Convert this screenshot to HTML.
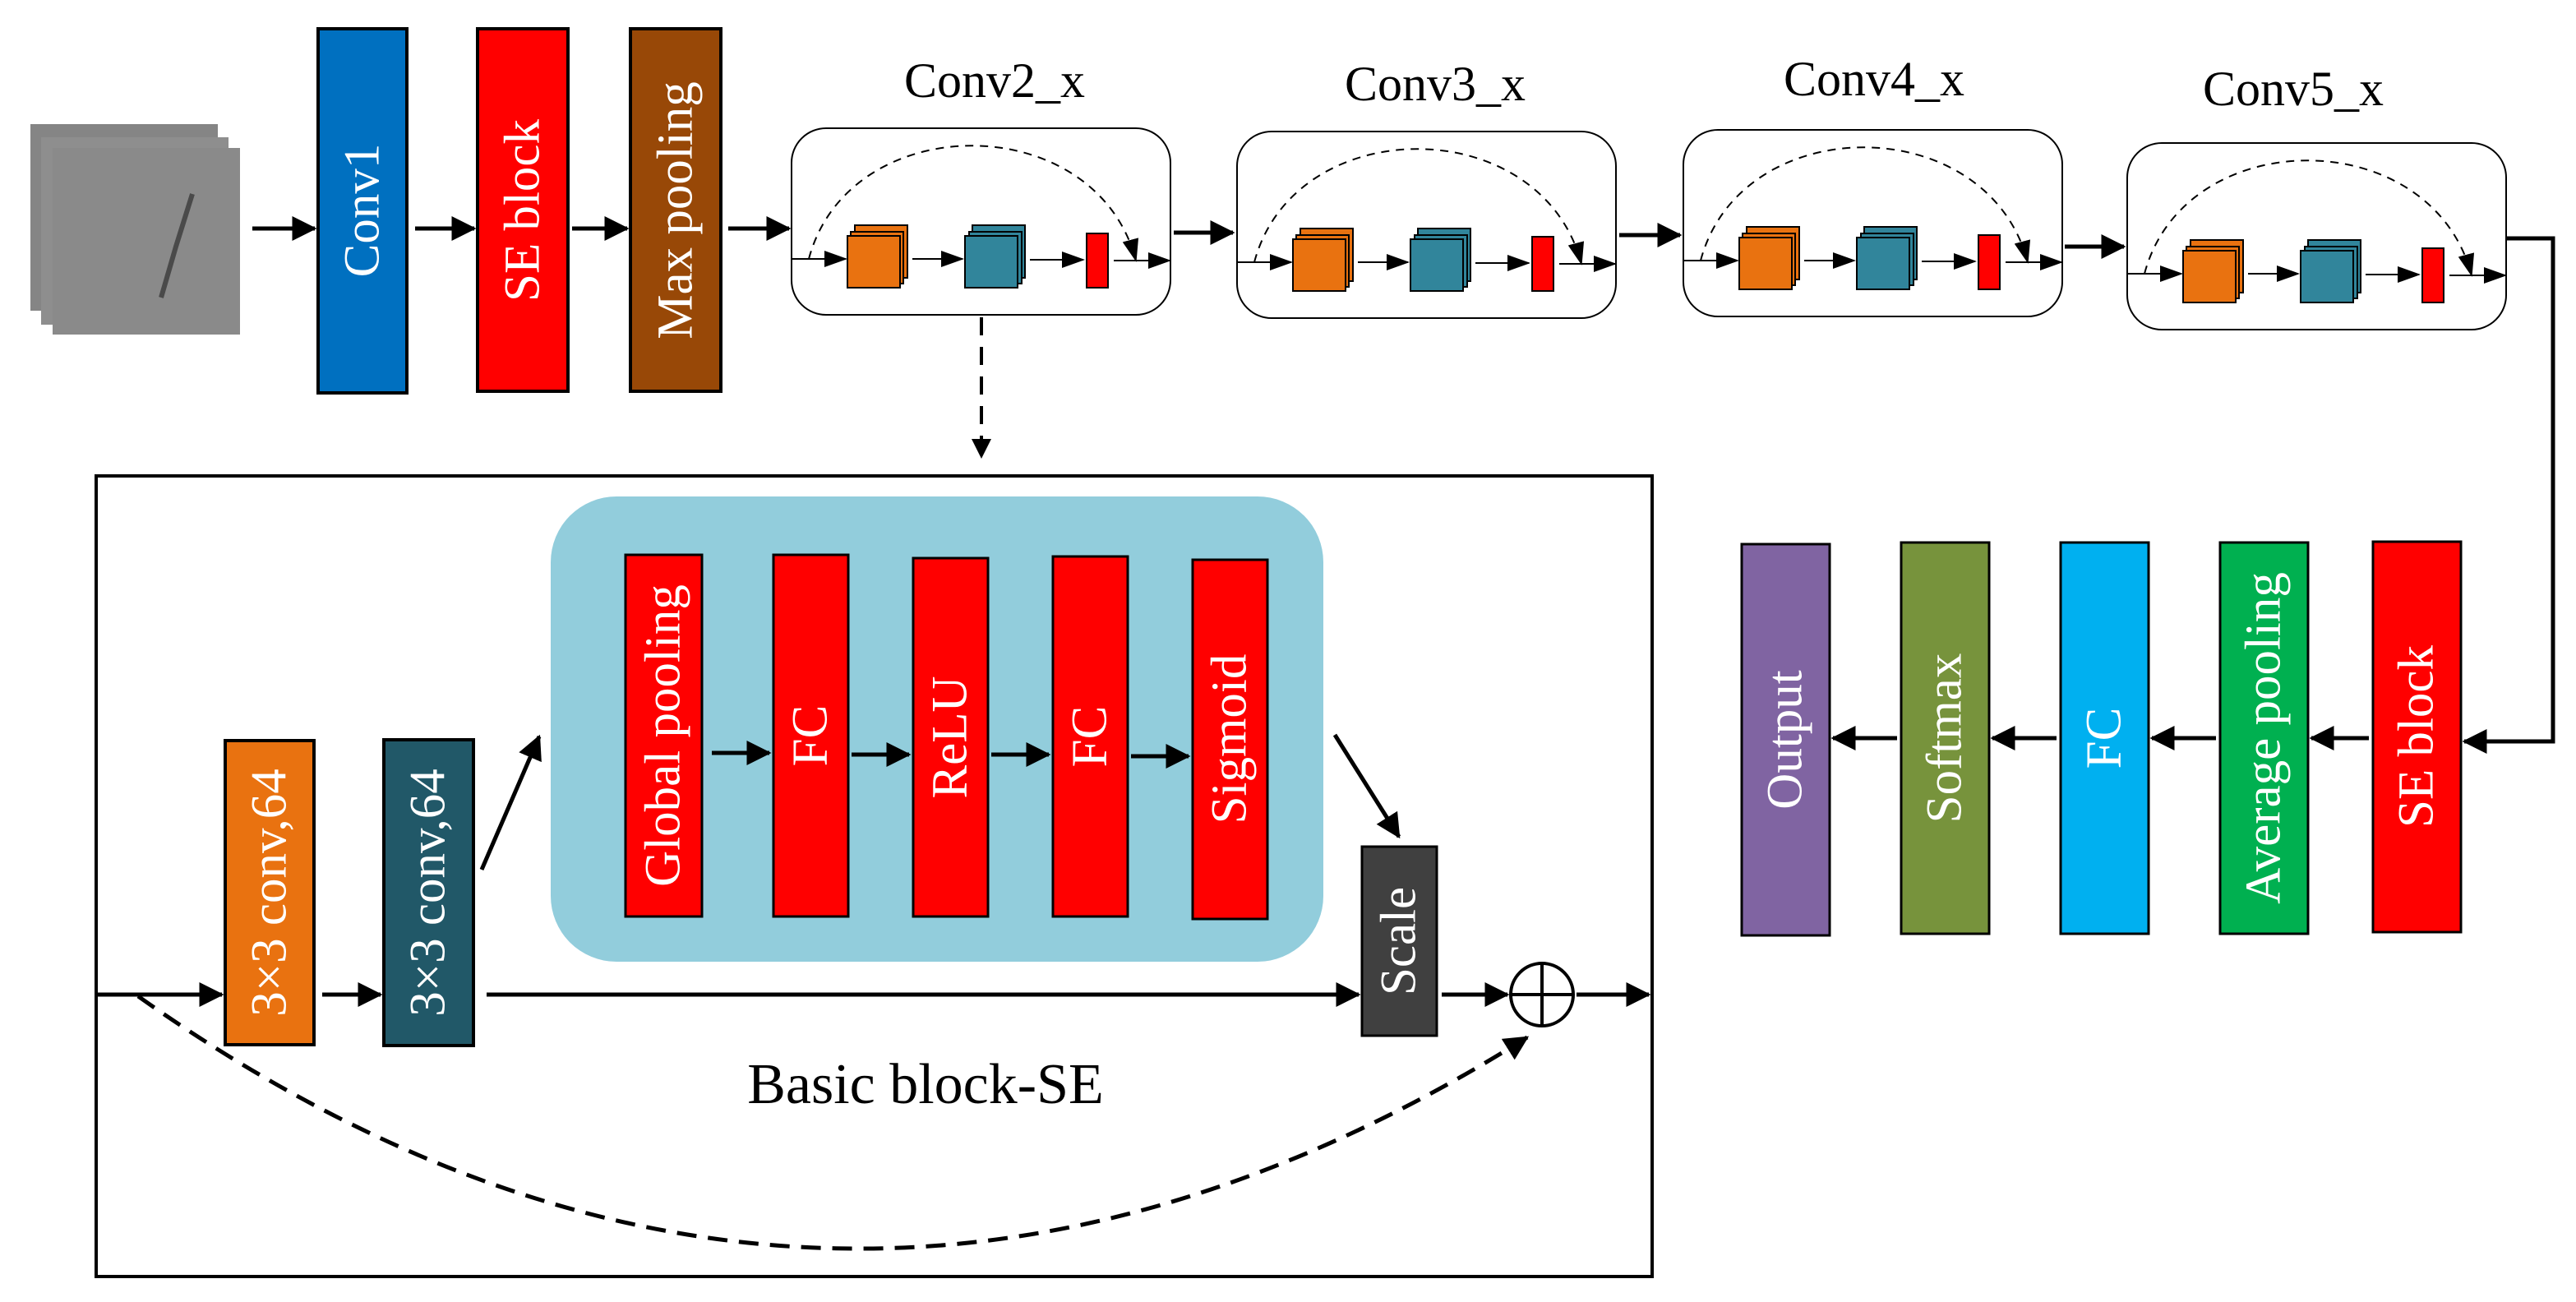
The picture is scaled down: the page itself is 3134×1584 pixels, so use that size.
<!DOCTYPE html>
<html><head><meta charset="utf-8"><style>
html,body{margin:0;padding:0;background:#fff;}
svg{display:block;}
text{font-family:"Liberation Serif",serif;}
.v{fill:#fff;font-size:61px;text-anchor:middle;dominant-baseline:central;}
</style></head><body>
<svg width="3134" height="1584" viewBox="0 0 3134 1584" xmlns="http://www.w3.org/2000/svg">
<defs>
<marker id="a" markerWidth="6" markerHeight="6" refX="5.5" refY="3" orient="auto" markerUnits="strokeWidth"><path d="M0,0 L6,3 L0,6 z" fill="#000"/></marker>
<marker id="s" markerWidth="14" markerHeight="10" refX="13" refY="5" orient="auto" markerUnits="strokeWidth"><path d="M0,0 L14,5 L0,10 z" fill="#000"/></marker>
<g id="mini">
  <rect x="0" y="0" width="461" height="227" rx="42" fill="#fff" stroke="#000" stroke-width="2"/>
  <line x1="0" y1="159" x2="66" y2="159" stroke="#000" stroke-width="2" marker-end="url(#s)"/>
  <rect x="77" y="118" width="64" height="64" fill="#e97210" stroke="#000" stroke-width="2"/>
  <rect x="72" y="126" width="64" height="63" fill="#e97210" stroke="#000" stroke-width="2"/>
  <rect x="68" y="131" width="64" height="63" fill="#e97210" stroke="#000" stroke-width="2"/>
  <line x1="147" y1="159" x2="208" y2="159" stroke="#000" stroke-width="2" marker-end="url(#s)"/>
  <rect x="220" y="118" width="64" height="64" fill="#31859b" stroke="#000" stroke-width="2"/>
  <rect x="216" y="126" width="64" height="63" fill="#31859b" stroke="#000" stroke-width="2"/>
  <rect x="211" y="131" width="64" height="63" fill="#31859b" stroke="#000" stroke-width="2"/>
  <line x1="290" y1="160" x2="355" y2="160" stroke="#000" stroke-width="2" marker-end="url(#s)"/>
  <rect x="359" y="128" width="26" height="66" fill="#ff0000" stroke="#000" stroke-width="2"/>
  <line x1="392" y1="161" x2="460" y2="161" stroke="#000" stroke-width="2" marker-end="url(#s)"/>
  <path d="M21 159 C 70 -25 370 -25 419 161" fill="none" stroke="#000" stroke-width="2" stroke-dasharray="10,8" marker-end="url(#s)"/>
</g>
</defs>

<!-- input images -->
<rect x="37" y="151" width="228" height="227" fill="#858585"/>
<rect x="50" y="167" width="228" height="228" fill="#8e8e8e"/>
<rect x="64" y="180" width="228" height="227" fill="#8a8a8a"/>
<path d="M234 236 L214 300 L196 362" stroke="#4a4a4a" stroke-width="6" fill="none"/>

<!-- top blocks -->
<rect x="387" y="35" width="108" height="443" fill="#0070c0" stroke="#000" stroke-width="4"/>
<text class="v" transform="translate(441,256) rotate(-90)">Conv1</text>
<rect x="581" y="35" width="110" height="441" fill="#ff0000" stroke="#000" stroke-width="4"/>
<text class="v" transform="translate(636,256) rotate(-90)">SE block</text>
<rect x="767" y="35" width="110" height="441" fill="#984807" stroke="#000" stroke-width="4"/>
<text class="v" transform="translate(822,256) rotate(-90)">Max pooling</text>

<g stroke="#000" stroke-width="5" fill="none">
<line x1="307" y1="278" x2="383" y2="278" marker-end="url(#a)"/>
<line x1="505" y1="278" x2="577" y2="278" marker-end="url(#a)"/>
<line x1="696" y1="278" x2="763" y2="278" marker-end="url(#a)"/>
<line x1="886" y1="278" x2="960" y2="278" marker-end="url(#a)"/>
<line x1="1428" y1="283" x2="1500" y2="283" marker-end="url(#a)"/>
<line x1="1970" y1="286" x2="2044" y2="286" marker-end="url(#a)"/>
<line x1="2512" y1="300" x2="2584" y2="300" marker-end="url(#a)"/>
<polyline points="3050,290 3106,290 3106,902 2998,902" marker-end="url(#a)"/>
</g>

<text x="1210" y="118" font-size="60" text-anchor="middle">Conv2_x</text>
<text x="1746" y="122" font-size="60" text-anchor="middle">Conv3_x</text>
<text x="2280" y="116" font-size="60" text-anchor="middle">Conv4_x</text>
<text x="2790" y="128" font-size="60" text-anchor="middle">Conv5_x</text>

<use href="#mini" x="963" y="156"/>
<use href="#mini" x="1505" y="160"/>
<use href="#mini" x="2048" y="158"/>
<use href="#mini" x="2588" y="174"/>

<line x1="1194" y1="386" x2="1194" y2="556" stroke="#000" stroke-width="4" stroke-dasharray="22,14" marker-end="url(#a)"/>

<!-- right column -->
<rect x="2887" y="659" width="107" height="475" fill="#ff0000" stroke="#000" stroke-width="3"/>
<text class="v" transform="translate(2940,896) rotate(-90)">SE block</text>
<rect x="2701" y="660" width="107" height="476" fill="#00b050" stroke="#000" stroke-width="3"/>
<text class="v" transform="translate(2754,898) rotate(-90)">Average pooling</text>
<rect x="2507" y="660" width="107" height="476" fill="#00b0f0" stroke="#000" stroke-width="3"/>
<text class="v" transform="translate(2560,898) rotate(-90)">FC</text>
<rect x="2313" y="660" width="107" height="476" fill="#77933c" stroke="#000" stroke-width="3"/>
<text class="v" transform="translate(2366,898) rotate(-90)">Softmax</text>
<rect x="2119" y="662" width="107" height="476" fill="#8064a2" stroke="#000" stroke-width="3"/>
<text class="v" transform="translate(2172,900) rotate(-90)">Output</text>
<g stroke="#000" stroke-width="5">
<line x1="2882" y1="898" x2="2812" y2="898" marker-end="url(#a)"/>
<line x1="2696" y1="898" x2="2618" y2="898" marker-end="url(#a)"/>
<line x1="2502" y1="898" x2="2424" y2="898" marker-end="url(#a)"/>
<line x1="2308" y1="898" x2="2230" y2="898" marker-end="url(#a)"/>
</g>

<!-- basic block -->
<rect x="117" y="579" width="1893" height="974" fill="none" stroke="#000" stroke-width="4"/>
<rect x="670" y="604" width="940" height="566" rx="80" fill="#92cddc"/>
<rect x="761" y="675" width="93" height="440" fill="#ff0000" stroke="#000" stroke-width="3"/>
<text class="v" transform="translate(807,895) rotate(-90)">Global pooling</text>
<rect x="941" y="675" width="91" height="440" fill="#ff0000" stroke="#000" stroke-width="3"/>
<text class="v" transform="translate(986,895) rotate(-90)">FC</text>
<rect x="1111" y="679" width="91" height="436" fill="#ff0000" stroke="#000" stroke-width="3"/>
<text class="v" transform="translate(1156,897) rotate(-90)">ReLU</text>
<rect x="1281" y="677" width="91" height="438" fill="#ff0000" stroke="#000" stroke-width="3"/>
<text class="v" transform="translate(1326,896) rotate(-90)">FC</text>
<rect x="1451" y="681" width="91" height="437" fill="#ff0000" stroke="#000" stroke-width="3"/>
<text class="v" transform="translate(1496,899) rotate(-90)">Sigmoid</text>
<g stroke="#000" stroke-width="5">
<line x1="866" y1="916" x2="936" y2="916" marker-end="url(#a)"/>
<line x1="1036" y1="918" x2="1106" y2="918" marker-end="url(#a)"/>
<line x1="1206" y1="918" x2="1276" y2="918" marker-end="url(#a)"/>
<line x1="1376" y1="920" x2="1446" y2="920" marker-end="url(#a)"/>
</g>

<rect x="274" y="901" width="108" height="370" fill="#e97210" stroke="#000" stroke-width="4"/>
<text class="v" transform="translate(328,1086) rotate(-90)">3×3 conv,64</text>
<rect x="467" y="900" width="109" height="372" fill="#215868" stroke="#000" stroke-width="4"/>
<text class="v" transform="translate(521,1086) rotate(-90)">3×3 conv,64</text>
<rect x="1657" y="1030" width="91" height="230" fill="#404040" stroke="#000" stroke-width="3"/>
<text class="v" transform="translate(1702,1145) rotate(-90)">Scale</text>
<circle cx="1876" cy="1210" r="38" fill="#fff" stroke="#000" stroke-width="4"/>
<line x1="1838" y1="1210" x2="1914" y2="1210" stroke="#000" stroke-width="4"/>
<line x1="1876" y1="1172" x2="1876" y2="1248" stroke="#000" stroke-width="4"/>

<g stroke="#000" stroke-width="5" fill="none">
<line x1="117" y1="1210" x2="270" y2="1210" marker-end="url(#a)"/>
<line x1="392" y1="1210" x2="463" y2="1210" marker-end="url(#a)"/>
<line x1="592" y1="1210" x2="1653" y2="1210" marker-end="url(#a)"/>
<line x1="1754" y1="1210" x2="1834" y2="1210" marker-end="url(#a)"/>
<line x1="1918" y1="1210" x2="2006" y2="1210" marker-end="url(#a)"/>
<line x1="586" y1="1058" x2="656" y2="896" marker-end="url(#a)"/>
<line x1="1624" y1="894" x2="1702" y2="1018" marker-end="url(#a)"/>
<path d="M168 1212 Q 1000 1800 1858 1262" stroke-dasharray="24,14" marker-end="url(#a)"/>
</g>
<text x="1126" y="1342" font-size="70" text-anchor="middle">Basic block-SE</text>
</svg>
</body></html>
